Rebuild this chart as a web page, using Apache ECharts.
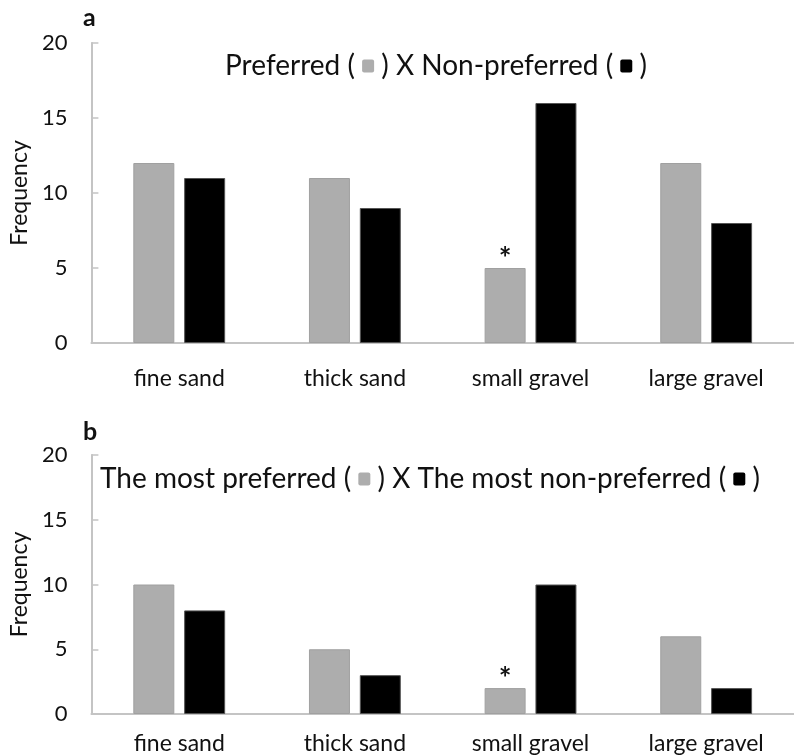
<!DOCTYPE html>
<html>
<head>
<meta charset="utf-8">
<style>
  html, body { margin: 0; padding: 0; background: #fff; }
  #chart { width: 794px; height: 755px; }
</style>
<script src="https://cdn.jsdelivr.net/npm/echarts@6/dist/echarts.min.js"></script>
</head>
<body>
<div id="chart"></div>
<script>
// Substrate choice frequencies, panel a and panel b
const categories = ['fine sand', 'thick sand', 'small gravel', 'large gravel'];
const preferredA = [12, 11, 5, 12];
const nonPreferredA = [11, 9, 16, 8];
const preferredB = [10, 5, 2, 6];
const nonPreferredB = [8, 3, 10, 2];
// categories where the preferred count differs significantly (marked with *)
const significant = [false, false, true, false];
const yTicks = [0, 5, 10, 15, 20];

const FONT = 'Lato, "DejaVu Sans", sans-serif';
const GREY = '#adadad';
const BLACK = '#000000';
const AXIS = '#c4c4c4';

function starred(values) {
  return values.map((v, i) => significant[i]
    ? { value: v, label: { show: true, position: 'top', distance: -6, formatter: '*',
        fontFamily: FONT, fontWeight: 'bold', fontSize: 30, color: '#111' } }
    : v);
}

function xAxis(gridIndex, margin) {
  return {
    type: 'category', gridIndex, data: categories,
    axisLine: { lineStyle: { color: AXIS, width: 2 } },
    axisTick: { show: false },
    axisLabel: { margin, fontFamily: FONT, fontSize: 23, color: '#111' }
  };
}

function yAxis(gridIndex, nameGap) {
  return {
    type: 'value', gridIndex,
    min: yTicks[0], max: yTicks[yTicks.length - 1], interval: 5,
    name: 'Frequency', nameLocation: 'middle', nameGap,
    nameTextStyle: { fontFamily: FONT, fontSize: 23, color: '#111' },
    axisLine: { show: true, lineStyle: { color: AXIS, width: 2 } },
    axisTick: { show: true, inside: true, length: 7, lineStyle: { color: AXIS, width: 1.5 } },
    axisLabel: { margin: 24, fontFamily: FONT, fontSize: 22, color: '#111' },
    splitLine: { show: false }
  };
}

function bars(name, values, color, axisIndex) {
  return {
    type: 'bar', name, data: values,
    xAxisIndex: axisIndex, yAxisIndex: axisIndex,
    barWidth: 41, barGap: '24%',
    itemStyle: { color, borderColor: color === BLACK ? '#555' : '#a0a0a0', borderWidth: 1 },
    emphasis: { disabled: true },
    animation: false
  };
}

const chart = echarts.init(document.getElementById('chart'), null, { renderer: 'canvas' });

const squareRich = {
  g: { width: 12, height: 13, backgroundColor: GREY, borderRadius: 2 },
  k: { width: 12, height: 13, backgroundColor: BLACK, borderRadius: 2 }
};

chart.setOption({
  animation: false,
  backgroundColor: '#fff',
  grid: [
    { left: 87, right: -5, top: 43, height: 300 },
    { left: 87, right: -5, top: 455, height: 259 }
  ],
  xAxis: [xAxis(0, 24), xAxis(1, 18)],
  yAxis: [yAxis(0, 57), yAxis(1, 53)],
  series: [
    bars('Preferred', starred(preferredA), GREY, 0),
    bars('Non-preferred', nonPreferredA, BLACK, 0),
    bars('The most preferred', starred(preferredB), GREY, 1),
    bars('The most non-preferred', nonPreferredB, BLACK, 1)
  ],
  graphic: [
    { type: 'text', x: 83, y: 18, style: { text: 'a', font: 'bold 25px ' + FONT, fill: '#111', verticalAlign: 'middle' } },
    { type: 'text', x: 83, y: 432, style: { text: 'b', font: 'bold 25px ' + FONT, fill: '#111', verticalAlign: 'middle' } },
    { type: 'text', x: 436, y: 66, style: {
        text: 'Preferred ( {g|} ) X Non-preferred ( {k|} )',
        font: '28px ' + FONT, fill: '#111', align: 'center', verticalAlign: 'middle', rich: squareRich } },
    { type: 'text', x: 430, y: 479, style: {
        text: 'The most preferred ( {g|} ) X The most non-preferred ( {k|} )',
        font: '28px ' + FONT, fill: '#111', align: 'center', verticalAlign: 'middle', rich: squareRich } }
  ]
});
</script>
</body>
</html>
